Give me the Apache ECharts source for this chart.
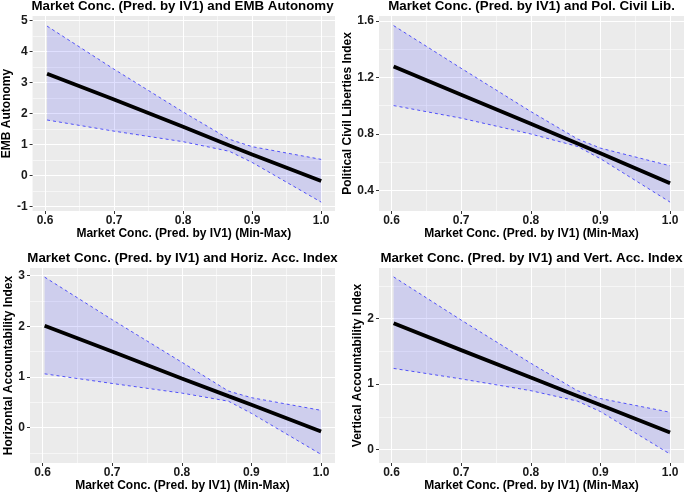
<!DOCTYPE html>
<html>
<head>
<meta charset="utf-8">
<script src="https://cdn.jsdelivr.net/npm/echarts@6/dist/echarts.min.js"></script>
<style>
html,body{margin:0;padding:0;background:#fff;}
#chart{width:685px;height:495px;}
</style>
</head>
<body>
<div id="chart"></div>
<script>
// ---------------- data ----------------
var xValues = [0.603, 0.7, 0.8, 0.867, 0.9, 1.0];

var embFit   = [3.28, 2.45, 1.57, 0.97, 0.68, -0.18];
var embUpper = [4.82, 3.43, 2.05, 1.17, 0.93, 0.52];
var embLower = [1.79, 1.43, 1.09, 0.78, 0.42, -0.86];

var civFit   = [1.277, 1.077, 0.872, 0.733, 0.664, 0.452];
var civUpper = [1.567, 1.265, 0.959, 0.765, 0.700, 0.575];
var civLower = [1.001, 0.912, 0.800, 0.712, 0.625, 0.318];

var horFit   = [2.01, 1.50, 0.97, 0.62, 0.45, -0.08];
var horUpper = [2.97, 2.13, 1.29, 0.72, 0.59, 0.34];
var horLower = [1.06, 0.87, 0.68, 0.52, 0.28, -0.53];

var verFit   = [1.93, 1.52, 1.10, 0.82, 0.68, 0.26];
var verUpper = [2.64, 1.98, 1.32, 0.90, 0.78, 0.57];
var verLower = [1.24, 1.08, 0.90, 0.74, 0.58, -0.07];

var xTicks      = [0.6, 0.7, 0.8, 0.9, 1.0];
var xMinorTicks = [0.65, 0.75, 0.85, 0.95];

var embTicks = [-1, 0, 1, 2, 3, 4, 5];
var embMinor = [-0.5, 0.5, 1.5, 2.5, 3.5, 4.5];
var civTicks = [0.4, 0.8, 1.2, 1.6];
var civMinor = [0.6, 1.0, 1.4];
var horTicks = [0, 1, 2, 3];
var horMinor = [-0.5, 0.5, 1.5, 2.5];
var verTicks = [0, 1, 2];
var verMinor = [0.5, 1.5, 2.5];

var titles = [
  'Market Conc. (Pred. by IV1) and EMB Autonomy',
  'Market Conc. (Pred. by IV1) and Pol. Civil Lib.',
  'Market Conc. (Pred. by IV1) and Horiz. Acc. Index',
  'Market Conc. (Pred. by IV1) and Vert. Acc. Index'
];
var yNames = ['EMB Autonomy', 'Political Civil Liberties Index',
              'Horizontal Accountability Index', 'Vertical Accountability Index'];
var xName = 'Market Conc. (Pred. by IV1) (Min-Max)';

// ---------------- layout ----------------
var FONT = 'Liberation Sans, Arial, sans-serif';
var panels = [
  {left: 30,  top: 16,  ymin: -1.146, ymax: 5.146, ticks: embTicks, minor: embMinor, dec: 0, gap: 17,
   fit: embFit, up: embUpper, lo: embLower},
  {left: 379, top: 16,  ymin: 0.255,  ymax: 1.635, ticks: civTicks, minor: civMinor, dec: 1, gap: 24,
   fit: civFit, up: civUpper, lo: civLower},
  {left: 30,  top: 268, ymin: -0.70,  ymax: 3.15,  ticks: horTicks, minor: horMinor, dec: 0, gap: 13,
   fit: horFit, up: horUpper, lo: horLower},
  {left: 379, top: 268, ymin: -0.206, ymax: 2.776, ticks: verTicks, minor: verMinor, dec: 0, gap: 13,
   fit: verFit, up: verUpper, lo: verLower}
];
var W = 305, H = 195, XMIN = 0.582, XMAX = 1.02;

function pairs(xs, ys) { return xs.map(function (x, i) { return [x, ys[i]]; }); }

function makeBandRenderer(bandData) {
  return function (params, api) {
    if (params.dataIndex !== 0) return;
    var ups = [], lows = [];
    for (var k = 0; k < bandData.length; k++) {
      ups.push(api.coord([bandData[k][0], bandData[k][2]]));
      lows.push(api.coord([bandData[k][0], bandData[k][1]]));
    }
    return {type: 'polygon', shape: {points: ups.concat(lows.reverse())},
      style: {fill: 'rgba(0,0,255,0.12)', stroke: 'none'}, silent: true};
  };
}

var grids = [], xAxes = [], yAxes = [], series = [], graphics = [];
panels.forEach(function (p, i) {
  grids.push({left: p.left, top: p.top, width: W, height: H, show: true,
              backgroundColor: '#EBEBEB', borderWidth: 0, containLabel: false});
  var labelStyle = {color: '#1a1a1a', fontFamily: FONT, fontWeight: 'bold', fontSize: 12};
  xAxes.push({type: 'value', gridIndex: i, min: XMIN, max: XMAX, position: 'bottom',
    name: xName, nameLocation: 'middle', nameGap: 17,
    nameTextStyle: {color: '#000', fontFamily: FONT, fontWeight: 'bold', fontSize: 12},
    axisLine: {show: false, onZero: false},
    axisTick: {show: true, length: 3, lineStyle: {color: '#333', width: 1}, customValues: xTicks},
    axisLabel: Object.assign({margin: 4, customValues: xTicks,
      formatter: function (v) { return v.toFixed(1); }}, labelStyle),
    splitLine: {show: true, lineStyle: {color: '#fff', width: 1.1}}
  });
  xAxes.push({type: 'value', gridIndex: i, min: XMIN, max: XMAX, position: 'top',
    axisLine: {show: false, onZero: false}, axisTick: {show: false, customValues: xMinorTicks},
    axisLabel: {show: false, customValues: xMinorTicks},
    splitLine: {show: true, lineStyle: {color: '#fff', width: 0.55}}
  });
  yAxes.push({type: 'value', gridIndex: i, min: p.ymin, max: p.ymax, position: 'left',
    name: yNames[i], nameLocation: 'middle', nameGap: p.gap,
    nameTextStyle: {color: '#000', fontFamily: FONT, fontWeight: 'bold', fontSize: 12},
    axisLine: {show: false, onZero: false},
    axisTick: {show: true, length: 3, lineStyle: {color: '#333', width: 1}, customValues: p.ticks},
    axisLabel: Object.assign({margin: 5, customValues: p.ticks,
      formatter: (function (d) { return function (v) { return v.toFixed(d); }; })(p.dec)}, labelStyle),
    splitLine: {show: true, lineStyle: {color: '#fff', width: 1.1}}
  });
  yAxes.push({type: 'value', gridIndex: i, min: p.ymin, max: p.ymax, position: 'right',
    axisLine: {show: false, onZero: false}, axisTick: {show: false, customValues: p.minor},
    axisLabel: {show: false, customValues: p.minor},
    splitLine: {show: true, lineStyle: {color: '#fff', width: 0.55}}
  });

  var xi = i * 2, yi = i * 2;
  var bandData = xValues.map(function (x, k) { return [x, p.lo[k], p.up[k]]; });
  series.push({type: 'custom', xAxisIndex: xi, yAxisIndex: yi, data: bandData,
    encode: {x: 0, y: [1, 2]}, silent: true, z: 2, renderItem: makeBandRenderer(bandData)});
  series.push({type: 'line', xAxisIndex: xi, yAxisIndex: yi, data: pairs(xValues, p.up),
    symbol: 'none', lineStyle: {color: 'rgba(0,0,255,0.8)', width: 0.8, type: [3, 3]}, silent: true, z: 3});
  series.push({type: 'line', xAxisIndex: xi, yAxisIndex: yi, data: pairs(xValues, p.lo),
    symbol: 'none', lineStyle: {color: 'rgba(0,0,255,0.8)', width: 0.8, type: [3, 3]}, silent: true, z: 3});
  series.push({type: 'line', xAxisIndex: xi, yAxisIndex: yi, data: pairs(xValues, p.fit),
    symbol: 'none', lineStyle: {color: '#000', width: 3.8}, silent: true, z: 4});

  graphics.push({type: 'text', x: p.left + W / 2, y: p.top - 10,
    style: {text: titles[i], align: 'center', verticalAlign: 'middle',
      font: 'bold 13.3px ' + FONT, fill: '#000'}});
});

var chart = echarts.init(document.getElementById('chart'), null, {renderer: 'canvas'});
chart.setOption({
  animation: false,
  backgroundColor: '#fff',
  grid: grids,
  xAxis: xAxes,
  yAxis: yAxes,
  series: series,
  graphic: graphics
});
</script>
</body>
</html>
